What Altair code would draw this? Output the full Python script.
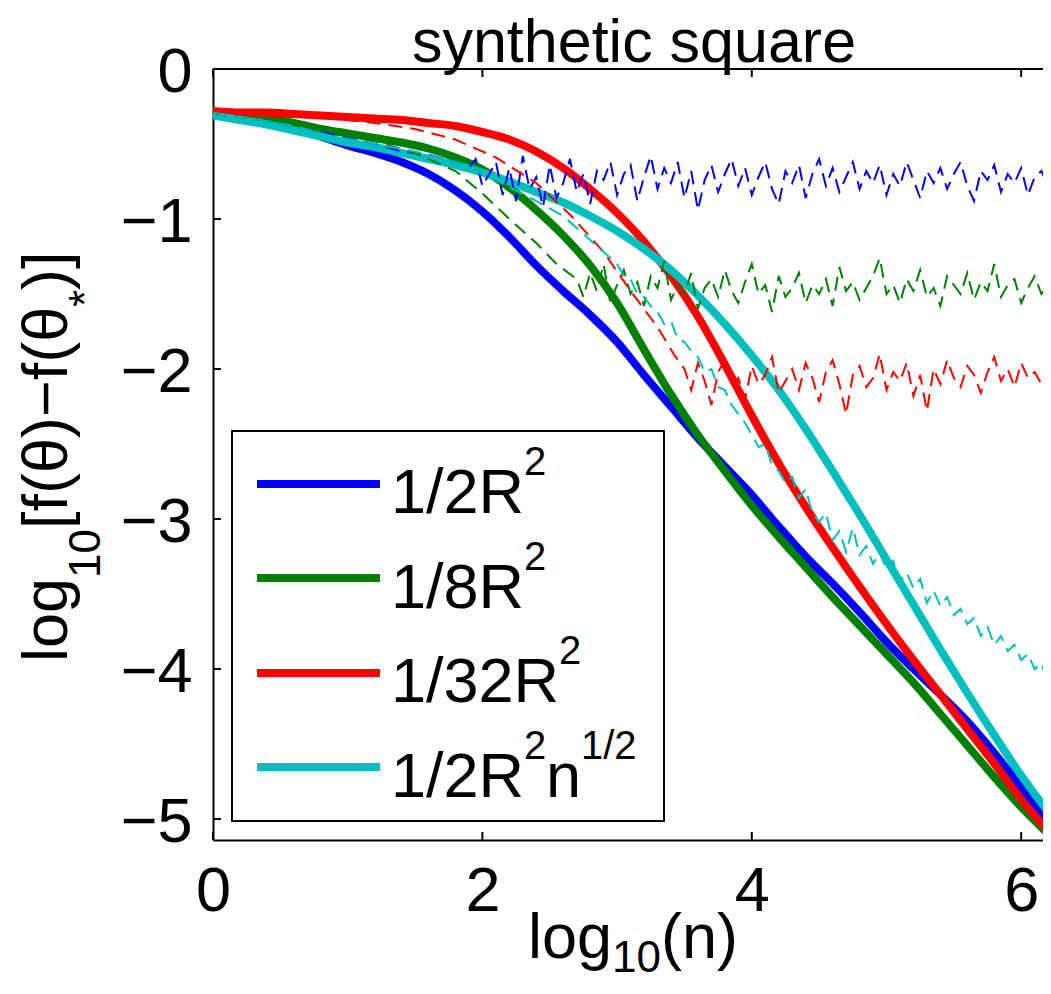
import altair as alt
import pandas as pd

# ---------------- data ----------------
SERIES = ["1/2R2", "1/8R2", "1/32R2", "1/2R2n1/2"]
COLORS = ["#0000ff", "#008000", "#ff0000", "#00bfbf"]

X_TICKS = [0, 2, 4, 6]
Y_TICKS = [0, -1, -2, -3, -4, -5]

# thick curves (averaged iterates)
X_THICK = [0.0, 0.2, 0.4, 0.6, 0.8, 1.0, 1.2, 1.4, 1.6, 1.8, 2.0, 2.2, 2.4, 2.6, 2.8, 3.0,
           3.2, 3.4, 3.6, 3.8, 4.0, 4.2, 4.4, 4.6, 4.8, 5.0, 5.2, 5.4, 5.6, 5.8, 6.0, 6.2, 6.3]
BLUE_THICK = [-0.30, -0.32, -0.35, -0.39, -0.45, -0.51, -0.56, -0.62, -0.70, -0.81, -0.95, -1.12,
              -1.31, -1.48, -1.64, -1.82, -2.04, -2.25, -2.46, -2.65, -2.84, -3.05, -3.25, -3.43,
              -3.62, -3.82, -4.00, -4.17, -4.35, -4.56, -4.79, -5.03, -5.15]
GREEN_THICK = [-0.30, -0.31, -0.33, -0.36, -0.40, -0.43, -0.46, -0.49, -0.53, -0.59, -0.67, -0.79,
               -0.94, -1.11, -1.31, -1.56, -1.87, -2.17, -2.44, -2.68, -2.91, -3.12, -3.32, -3.52,
               -3.71, -3.90, -4.09, -4.30, -4.51, -4.72, -4.92, -5.10, -5.19]
RED_THICK = [-0.28, -0.29, -0.29, -0.30, -0.31, -0.32, -0.33, -0.34, -0.36, -0.38, -0.42, -0.47,
             -0.55, -0.66, -0.80, -0.96, -1.15, -1.38, -1.65, -1.97, -2.31, -2.63, -2.92, -3.19,
             -3.45, -3.70, -3.94, -4.17, -4.40, -4.63, -4.87, -5.08, -5.18]
CYAN_THICK = [-0.31, -0.34, -0.37, -0.41, -0.45, -0.49, -0.52, -0.56, -0.60, -0.64, -0.69, -0.75,
              -0.82, -0.89, -0.98, -1.08, -1.20, -1.34, -1.51, -1.70, -1.91, -2.14, -2.40, -2.68,
              -2.97, -3.27, -3.57, -3.87, -4.16, -4.44, -4.71, -4.95, -5.06]

# thin dashed curves (raw iterates): early part + noisy part on a shared grid
GRID = [1.90, 1.95, 2.00, 2.05, 2.10, 2.15, 2.20, 2.25, 2.30, 2.35,
        2.40, 2.45, 2.50, 2.55, 2.60, 2.65, 2.70, 2.75, 2.80, 2.85,
        2.90, 2.95, 3.00, 3.05, 3.10, 3.15, 3.20, 3.25, 3.30, 3.35,
        3.40, 3.45, 3.50, 3.55, 3.60, 3.65, 3.70, 3.75, 3.80, 3.85,
        3.90, 3.95, 4.00, 4.05, 4.10, 4.15, 4.20, 4.25, 4.30, 4.35,
        4.40, 4.45, 4.50, 4.55, 4.60, 4.65, 4.70, 4.75, 4.80, 4.85,
        4.90, 4.95, 5.00, 5.05, 5.10, 5.15, 5.20, 5.25, 5.30, 5.35,
        5.40, 5.45, 5.50, 5.55, 5.60, 5.65, 5.70, 5.75, 5.80, 5.85,
        5.90, 5.95, 6.00, 6.05, 6.10, 6.15, 6.20]

BLUE_EARLY_X = [0.0, 0.3, 0.6, 0.9, 1.2, 1.4, 1.6, 1.8]
BLUE_EARLY_Y = [-0.30, -0.33, -0.38, -0.44, -0.50, -0.55, -0.57, -0.62]
BLUE_NOISY = [-0.66, -0.60, -0.78, -0.70, -0.62, -0.84, -0.66, -0.88, -0.58, -0.80,
              -0.72, -0.92, -0.64, -0.86, -0.76, -0.60, -0.82, -0.70, -0.90, -0.68,
              -0.74, -0.62, -0.84, -0.70, -0.64, -0.88, -0.72, -0.58, -0.80, -0.66,
              -0.76, -0.62, -0.86, -0.68, -0.94, -0.74, -0.64, -0.82, -0.70, -0.60,
              -0.78, -0.66, -0.84, -0.72, -0.62, -0.80, -0.90, -0.68, -0.76, -0.64,
              -0.86, -0.70, -0.60, -0.78, -0.66, -0.82, -0.72, -0.62, -0.80, -0.68,
              -0.76, -0.64, -0.84, -0.70, -0.78, -0.62, -0.74, -0.86, -0.68, -0.76,
              -0.66, -0.80, -0.70, -0.62, -0.78, -0.88, -0.68, -0.74, -0.64, -0.82,
              -0.70, -0.76, -0.66, -0.84, -0.72, -0.68, -0.78]

GREEN_EARLY_X = [0.0, 0.3, 0.6, 0.9, 1.2, 1.5, 1.8, 2.0, 2.2, 2.4, 2.55]
GREEN_EARLY_Y = [-0.30, -0.33, -0.37, -0.42, -0.48, -0.56, -0.68, -0.83, -1.00, -1.16, -1.30]
GREEN_NOISY = [-1.40, -1.52, -1.36, -1.48, -1.30, -1.56, -1.44, -1.34, -1.50, -1.42,
               -1.58, -1.38, -1.46, -1.28, -1.54, -1.44, -1.50, -1.36, -1.60, -1.46,
               -1.40, -1.52, -1.34, -1.48, -1.56, -1.42, -1.30, -1.50, -1.44, -1.62,
               -1.38, -1.52, -1.46, -1.36, -1.56, -1.44, -1.50, -1.40, -1.58, -1.32,
               -1.48, -1.42, -1.54, -1.46, -1.38, -1.26, -1.50, -1.44, -1.56, -1.40,
               -1.48, -1.34, -1.52, -1.46, -1.58, -1.38, -1.44, -1.50, -1.36, -1.54,
               -1.42, -1.48, -1.30, -1.52, -1.44, -1.40, -1.56, -1.46, -1.38, -1.50,
               -1.44]

RED_EARLY_X = [0.0, 0.4, 0.8, 1.2, 1.5, 1.8, 2.1, 2.4, 2.65, 2.9, 3.1, 3.3, 3.42]
RED_EARLY_Y = [-0.28, -0.30, -0.32, -0.36, -0.40, -0.47, -0.59, -0.76, -0.97, -1.22, -1.48, -1.72, -1.90]
RED_NOISY = [-2.00, -2.14, -1.96, -2.08, -2.24, -2.02, -1.94, -2.12, -2.06, -2.20,
             -1.98, -2.10, -2.04, -1.92, -2.16, -2.08, -2.00, -2.14, -1.96, -2.06,
             -2.22, -2.02, -1.94, -2.10, -2.30, -2.04, -1.98, -2.12, -2.06, -1.90,
             -2.14, -2.02, -2.08, -1.96, -2.18, -2.04, -2.28, -2.00, -2.10, -1.94,
             -2.06, -2.12, -1.98, -2.04, -2.16, -2.02, -1.92, -2.08, -2.00, -2.12,
             -1.96, -2.06, -2.02, -2.10, -2.04]

CYAN_EARLY_X = [0.0, 0.3, 0.6, 0.9, 1.2, 1.5, 1.8, 2.1, 2.4, 2.6, 2.75, 2.9]
CYAN_EARLY_Y = [-0.30, -0.33, -0.38, -0.45, -0.50, -0.55, -0.62, -0.74, -0.88, -0.98, -1.10, -1.22]
CYAN_NOISY = [-1.30, -1.38, -1.40, -1.50, -1.52, -1.58, -1.62, -1.70, -1.68, -1.80,
              -1.82, -1.88, -1.92, -2.02, -2.00, -2.12, -2.14, -2.24, -2.30, -2.36,
              -2.44, -2.52, -2.50, -2.64, -2.68, -2.76, -2.72, -2.86, -2.80, -2.96,
              -3.02, -2.96, -3.14, -3.08, -3.22, -3.06, -3.24, -3.18, -3.30, -3.22,
              -3.34, -3.28, -3.42, -3.36, -3.46, -3.40, -3.56, -3.48, -3.58, -3.52,
              -3.64, -3.60, -3.70, -3.66, -3.78, -3.72, -3.84, -3.78, -3.88, -3.84,
              -3.94, -3.90, -4.00, -3.96, -4.10]

# ---------------- layout ----------------
W, H = 830, 771
X_MAX = 6.162          # keeps 134.7 px per unit on a 830 px wide plot
FONT = "Liberation Sans"
FS = 63
SUB = 44
SUP = 40

xscale = alt.Scale(domain=[0.0, X_MAX], nice=False, zero=False)
yscale = alt.Scale(domain=[-5.14, 0.0], nice=False, zero=False)

x_axis = alt.Axis(values=X_TICKS, format="d", grid=False, ticks=False, tickSize=0,
                  labelPadding=70, labelBaseline="alphabetic", labelFontSize=FS,
                  labelFont=FONT, labelColor="black", domainColor="black",
                  domainWidth=2, labelFlush=False, labelOverlap=False, title=None)
y_axis = alt.Axis(values=Y_TICKS, format="d", grid=False, ticks=False, tickSize=0,
                  labelPadding=21, labelBaseline="alphabetic", labelOffset=22,
                  labelFontSize=FS, labelFont=FONT, labelColor="black",
                  domainColor="black", domainWidth=2, labelFlush=False,
                  labelOverlap=False, title=None)

X = alt.X("x:Q", scale=xscale, axis=x_axis)
Y = alt.Y("y:Q", scale=yscale, axis=y_axis)

thick_lists = [BLUE_THICK, GREEN_THICK, RED_THICK, CYAN_THICK]
thin_parts = [(BLUE_EARLY_X, BLUE_EARLY_Y, BLUE_NOISY),
              (GREEN_EARLY_X, GREEN_EARLY_Y, GREEN_NOISY),
              (RED_EARLY_X, RED_EARLY_Y, RED_NOISY),
              (CYAN_EARLY_X, CYAN_EARLY_Y, CYAN_NOISY)]

layers = []
# thick curves
for name, color, ys in zip(SERIES, COLORS, thick_lists):
    d = pd.DataFrame({"x": X_THICK, "y": ys})
    layers.append(alt.Chart(d).mark_line(clip=True, strokeWidth=8, color=color,
                                         interpolate="monotone", strokeJoin="round")
                  .encode(x=X, y=Y))
# thin dashed curves
for name, color, (ex, ey, ny) in zip(SERIES, COLORS, thin_parts):
    xs = ex + GRID[len(GRID) - len(ny):]
    ys = ey + ny
    d = pd.DataFrame({"x": xs, "y": ys})
    layers.append(alt.Chart(d).mark_line(clip=True, strokeWidth=2, color=color,
                                         strokeDash=[14, 8])
                  .encode(x=X, y=Y))

one = pd.DataFrame({"a": [0]})
xt = pd.DataFrame({"x": X_TICKS})
yt = pd.DataFrame({"y": Y_TICKS})

# inward ticks and top border
layers.append(alt.Chart(xt).mark_rule(color="black", strokeWidth=2)
              .encode(x=X, y=alt.value(H), y2=alt.value(H - 8)))
layers.append(alt.Chart(xt).mark_rule(color="black", strokeWidth=2)
              .encode(x=X, y=alt.value(0), y2=alt.value(8)))
layers.append(alt.Chart(yt).mark_rule(color="black", strokeWidth=2)
              .encode(y=Y, x=alt.value(0), x2=alt.value(8)))
layers.append(alt.Chart(one).mark_rule(color="black", strokeWidth=2)
              .encode(x=alt.value(0), x2=alt.value(W), y=alt.value(0)))


def txt(s, x, y, size=FS, angle=None, align="left"):
    kw = dict(text=s, font=FONT, fontSize=size, color="black", align=align,
              baseline="alphabetic")
    if angle is not None:
        kw["angle"] = angle
    return alt.Chart(one).mark_text(**kw).encode(x=alt.value(x), y=alt.value(y))


# title
layers.append(txt("synthetic square", 421, -7, size=61, align="center"))
# x axis title: log10(n)
layers.append(txt("log", 315, 889))
layers.append(txt("10", 399, 903, size=SUB))
layers.append(txt("(n)", 448, 889))
# y axis title: log10[f(θ)−f(θ*)]
layers.append(txt("log", -146, 593, angle=270))
layers.append(txt("10", -113, 509, size=SUB, angle=270))
layers.append(txt("[f(θ)\u2212f(θ", -146, 460, angle=270))
layers.append(txt("*", -113, 238, size=SUB, angle=270))
layers.append(txt(")]", -146, 221, angle=270))

# legend
layers.append(alt.Chart(one).mark_rect(fill="white", stroke="black", strokeWidth=2)
              .encode(x=alt.value(19), x2=alt.value(451), y=alt.value(362), y2=alt.value(752)))
row_y = [415, 509, 604, 698]
base_y = [444, 538.5, 633, 727.5]
for color, ry in zip(COLORS, row_y):
    layers.append(alt.Chart(one).mark_rule(color=color, strokeWidth=8)
                  .encode(x=alt.value(44), x2=alt.value(167), y=alt.value(ry)))
layers.append(txt("1/2R", 178, base_y[0]))
layers.append(txt("2", 311, base_y[0] - 38, size=SUP))
layers.append(txt("1/8R", 178, base_y[1]))
layers.append(txt("2", 311, base_y[1] - 38, size=SUP))
layers.append(txt("1/32R", 178, base_y[2]))
layers.append(txt("2", 346, base_y[2] - 38, size=SUP))
layers.append(txt("1/2R", 178, base_y[3]))
layers.append(txt("2", 311, base_y[3] - 38, size=SUP))
layers.append(txt("n", 333, base_y[3]))
layers.append(txt("1/2", 368, base_y[3] - 38, size=SUP))

chart = alt.layer(*layers).properties(
    width=W, height=H,
    autosize=alt.AutoSizeParams(type="none"),
    padding={"left": 205, "top": 61, "right": 0, "bottom": 142},
    background="white",
).configure_view(stroke=None)

chart.save("out.html", embed_options={"renderer": "svg", "actions": False})
